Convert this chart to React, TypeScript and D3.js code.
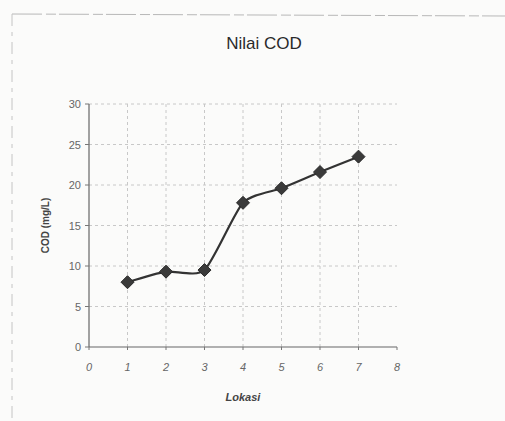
import React from "react";
import * as d3 from "d3";

const lokasi = [1, 2, 3, 4, 5, 6, 7];
const codValues = [8.0, 9.3, 9.5, 17.8, 19.6, 21.6, 23.5];
const xTicks = [0, 1, 2, 3, 4, 5, 6, 7, 8];
const yTicks = [0, 5, 10, 15, 20, 25, 30];

export default function App() {
  const W = 505, H = 421;
  const x = d3.scaleLinear().domain([0, 8]).range([89, 397]);
  const y = d3.scaleLinear().domain([0, 30]).range([347, 104]);
  const pts: [number, number][] = lokasi.map((d, i) => [x(d), y(codValues[i])]);
  const line = d3.line().curve(d3.curveCardinal.tension(0.35))(pts) || "";
  const diamond = (cx: number, cy: number, r: number) =>
    `M${cx},${cy - r}L${cx + r},${cy}L${cx},${cy + r}L${cx - r},${cy}Z`;
  const font = "Arial, 'Liberation Sans', sans-serif";
  return (
    <svg width={W} height={H} style={{ position: "absolute", left: 0, top: 0, background: "#fbfbfa" }} fontFamily={font}>
      <rect x={0} y={0} width={W} height={H} fill="#fbfbfa" />
      {/* border of chart area */}
      <line x1={12} y1={14} x2={W} y2={16} stroke="#b8b8b8" strokeWidth={1} strokeDasharray="30 4 10 3" />
      <line x1={12} y1={14} x2={12} y2={H} stroke="#c4c4c4" strokeWidth={1} strokeDasharray="12 6 4 6" />
      {/* grid */}
      {yTicks.filter(t => t > 0).map(t => (
        <line key={"gy" + t} x1={x(0)} x2={x(8)} y1={y(t)} y2={y(t)} stroke="#c8c8c8" strokeWidth={1} strokeDasharray="3 3" />
      ))}
      {xTicks.filter(t => t > 0 && t < 8).map(t => (
        <line key={"gx" + t} x1={x(t)} x2={x(t)} y1={y(30)} y2={y(0)} stroke="#c8c8c8" strokeWidth={1} strokeDasharray="3 3" />
      ))}
      {/* axes */}
      <line x1={x(0)} x2={x(0)} y1={y(30)} y2={y(0)} stroke="#666" strokeWidth={1.2} />
      <line x1={x(0)} x2={x(8)} y1={y(0)} y2={y(0)} stroke="#666" strokeWidth={1.2} />
      {yTicks.map(t => (
        <g key={"ty" + t}>
          <line x1={x(0) - 4} x2={x(0)} y1={y(t)} y2={y(t)} stroke="#777" />
          <text x={x(0) - 8} y={y(t) + 4} fontSize={11} fill="#666" textAnchor="end">{t}</text>
        </g>
      ))}
      {xTicks.map(t => (
        <g key={"tx" + t}>
          <line x1={x(t)} x2={x(t)} y1={y(0)} y2={y(0) + 3} stroke="#777" />
          <text x={x(t)} y={y(0) + 24} fontSize={11} fill="#666" textAnchor="middle" fontStyle="italic">{t}</text>
        </g>
      ))}
      {/* series */}
      <path d={line} fill="none" stroke="#333" strokeWidth={2.2} />
      {pts.map(([cx, cy], i) => (
        <path key={"m" + i} d={diamond(cx, cy, 6.5)} fill="#3a3a3a" stroke="#2a2a2a" strokeWidth={1} />
      ))}
      {/* labels */}
      <text x={264} y={49} fontSize={17} fill="#2a2a2a" textAnchor="middle">Nilai COD</text>
      <text x={243} y={401} fontSize={11} fill="#444" textAnchor="middle" fontWeight="bold" fontStyle="italic">Lokasi</text>
      <text transform={`translate(49,${y(15)}) rotate(-90)`} fontSize={10} fill="#444" textAnchor="middle" fontWeight="bold">COD (mg/L)</text>
    </svg>
  );
}
